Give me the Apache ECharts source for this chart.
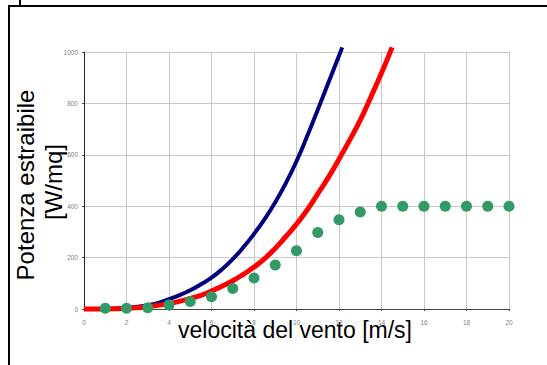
<!DOCTYPE html>
<html>
<head>
<meta charset="utf-8">
<script src="https://cdn.jsdelivr.net/npm/echarts@6/dist/echarts.min.js"></script>
<style>
  html, body { margin: 0; padding: 0; background: #ffffff; }
  #chart { width: 547px; height: 365px; }
</style>
</head>
<body>
<div id="chart"></div>
<script>
// Wind speed axis ticks (m/s) and power axis ticks (W/m²)
const xTicks = [0, 2, 4, 6, 8, 10, 12, 14, 16, 18, 20];
const yTicks = [0, 200, 400, 600, 800, 1000];

// Total power carried by the wind
const windX = [0, 0.5, 1, 1.5, 2, 2.5, 3, 3.5, 4, 4.5, 5, 5.5, 6, 6.5, 7, 7.5, 8, 8.5, 9, 9.5, 10, 10.5, 11, 11.5, 12, 12.15];
const windPower = [0, 0.1, 0.6, 2, 5, 9, 15, 24, 38, 54, 73, 96, 122, 155, 194, 240, 292, 350, 415, 490, 575, 672, 775, 880, 985, 1018];

// Betz limit: maximum extractable power
const betzX = [0, 1, 2, 3, 4, 5, 5.5, 6, 6.5, 7, 7.5, 8, 8.5, 9, 9.5, 10, 10.5, 11, 11.5, 12, 12.5, 13, 13.5, 14, 14.5];
const betzPower = [0, 0.3, 3, 9, 21, 41, 53, 70, 89, 110, 135, 163, 196, 236, 282, 330, 385, 448, 512, 583, 657, 735, 825, 918, 1018];

// Power actually produced by the turbine
const turbineX = [1, 2, 3, 4, 5, 6, 7, 8, 9, 10, 11, 12, 13, 14, 15, 16, 17, 18, 19, 20];
const turbinePower = [3, 3, 5, 16, 29, 48, 80, 121, 171, 227, 298, 347, 377, 400, 400, 400, 400, 400, 400, 400];

const zip = (xs, ys) => xs.map((x, i) => [x, ys[i]]);

const chart = echarts.init(document.getElementById('chart'), null, { renderer: 'svg' });

const tickLabel = {
  fontSize: 6.5,
  color: '#808080',
  fontFamily: 'Liberation Sans',
  formatter: (v) => String(v)
};

chart.setOption({
  backgroundColor: '#ffffff',
  animation: false,
  grid: { left: 84, right: 38, top: 52, bottom: 56 },
  xAxis: {
    type: 'value',
    min: xTicks[0],
    max: xTicks[xTicks.length - 1],
    interval: xTicks[1] - xTicks[0],
    axisLine: { show: true, lineStyle: { color: '#444444', width: 1 } },
    axisTick: { show: true, length: 2, lineStyle: { color: '#444444' } },
    axisLabel: Object.assign({ margin: 10 }, tickLabel),
    splitLine: { show: true, lineStyle: { color: '#c8c8c8', width: 1 } }
  },
  yAxis: {
    type: 'value',
    min: yTicks[0],
    max: yTicks[yTicks.length - 1],
    interval: yTicks[1] - yTicks[0],
    axisLine: { show: true, lineStyle: { color: '#222222', width: 1 } },
    axisTick: { show: true, length: 2, lineStyle: { color: '#444444' } },
    axisLabel: Object.assign({ margin: 6 }, tickLabel),
    splitLine: { show: true, lineStyle: { color: '#c8c8c8', width: 1 } }
  },
  series: [
    {
      type: 'line',
      data: zip(windX, windPower),
      smooth: true,
      showSymbol: false,
      clip: false,
      lineStyle: { color: '#000080', width: 4 },
      z: 2
    },
    {
      type: 'line',
      data: zip(betzX, betzPower),
      smooth: true,
      showSymbol: false,
      clip: false,
      lineStyle: { color: '#ff0000', width: 5 },
      z: 3
    },
    {
      type: 'scatter',
      data: zip(turbineX, turbinePower),
      symbol: 'circle',
      symbolSize: 11,
      clip: false,
      itemStyle: { color: '#339966', opacity: 1 },
      z: 4
    }
  ],
  graphic: [
    // page frame
    { type: 'line', shape: { x1: 8, y1: 6, x2: 547, y2: 6 }, style: { stroke: '#000', lineWidth: 2 } },
    { type: 'line', shape: { x1: 9, y1: 5, x2: 9, y2: 365 }, style: { stroke: '#000', lineWidth: 2 } },
    { type: 'line', shape: { x1: 20, y1: 0, x2: 20, y2: 5 }, style: { stroke: '#000', lineWidth: 2 } },
    // axis titles
    {
      type: 'text',
      x: 25, y: 185, rotation: Math.PI / 2,
      style: {
        text: 'Potenza estraibile',
        font: '24px "Liberation Sans", Arial, sans-serif',
        fill: '#000', align: 'center', verticalAlign: 'middle'
      }
    },
    {
      type: 'text',
      x: 53, y: 182, rotation: Math.PI / 2,
      style: {
        text: '[W/mq]',
        font: '24px "Liberation Sans", Arial, sans-serif',
        fill: '#000', align: 'center', verticalAlign: 'middle'
      }
    },
    {
      type: 'text',
      x: 295, y: 330,
      style: {
        text: 'velocità del vento [m/s]',
        font: '23px "Liberation Sans", Arial, sans-serif',
        fill: '#000', align: 'center', verticalAlign: 'middle'
      }
    }
  ]
});
</script>
</body>
</html>
